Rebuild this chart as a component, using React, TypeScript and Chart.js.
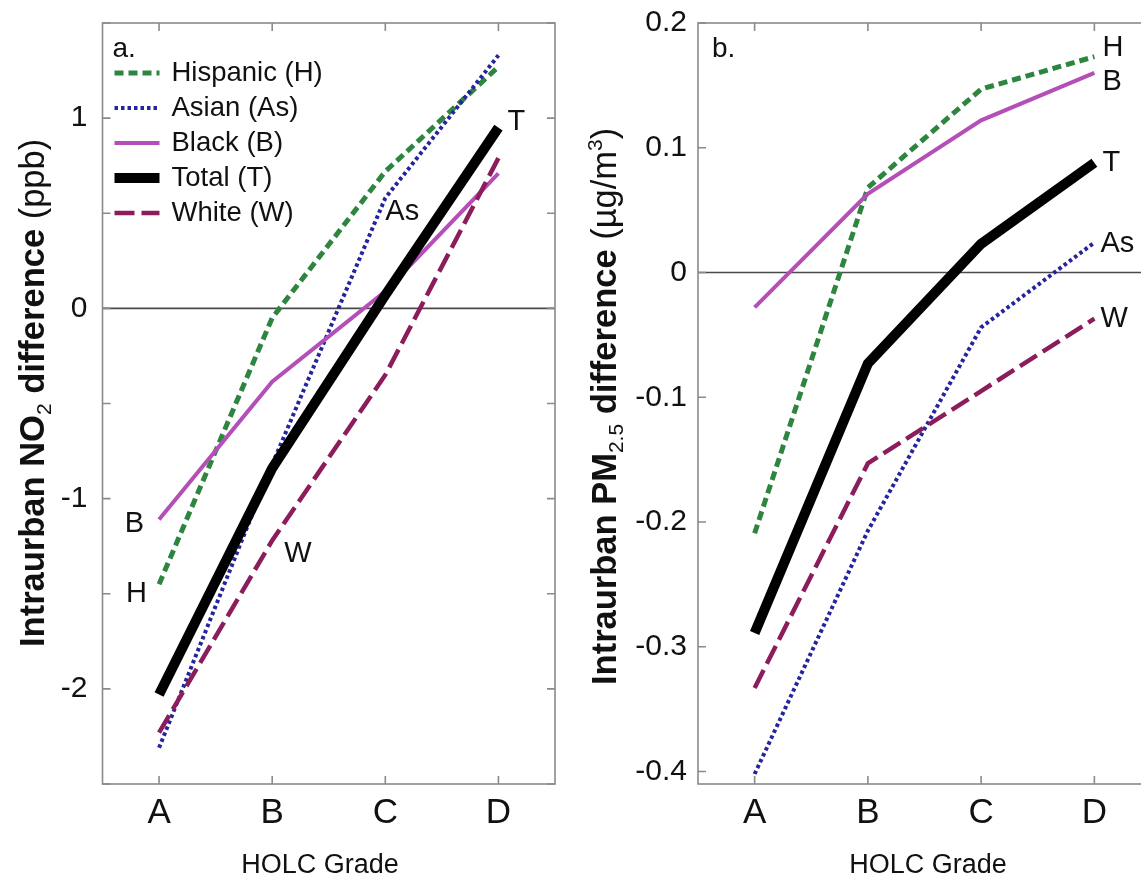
import React, { useEffect, useRef } from 'react';
import { Chart, registerables } from 'chart.js';

Chart.register(...registerables);

const GRADES = ['A', 'B', 'C', 'D'];
const SERIES_NAMES = ['Hispanic (H)', 'Asian (As)', 'Black (B)', 'Total (T)', 'White (W)'];

// Panel a: intraurban NO2 difference (ppb)
const NO2_HISPANIC = [-1.45, -0.05, 0.72, 1.27];
const NO2_ASIAN = [-2.31, -0.82, 0.58, 1.33];
const NO2_BLACK = [-1.11, -0.385, 0.09, 0.71];
const NO2_TOTAL = [-2.03, -0.84, 0.07, 0.95];
const NO2_WHITE = [-2.23, -1.22, -0.35, 0.79];
const NO2_TICKS = [-2.5, -2, -1.5, -1, -0.5, 0, 0.5, 1, 1.5];
const NO2_TICK_LABELS = ['', '-2', '', '-1', '', '0', '', '1', ''];

// Panel b: intraurban PM2.5 difference (µg/m3)
const PM_HISPANIC = [-0.209, 0.068, 0.147, 0.173];
const PM_ASIAN = [-0.402, -0.207, -0.044, 0.024];
const PM_BLACK = [-0.028, 0.063, 0.122, 0.16];
const PM_TOTAL = [-0.289, -0.073, 0.023, 0.088];
const PM_WHITE = [-0.333, -0.153, -0.095, -0.037];
const PM_TICKS = [-0.4, -0.3, -0.2, -0.1, 0, 0.1, 0.2];
const PM_TICK_LABELS = ['-0.4', '-0.3', '-0.2', '-0.1', '0', '0.1', '0.2'];

const FONT = '"Liberation Sans", Arial, Helvetica, sans-serif';

const STYLES = [
  { color: '#2e8540', width: 5, dash: [9, 5] },
  { color: '#24249c', width: 4, dash: [3.5, 3] },
  { color: '#b44fb8', width: 4, dash: [] as number[] },
  { color: '#000000', width: 10, dash: [] as number[] },
  { color: '#8c1d5c', width: 4.5, dash: [20, 7] },
];

type Run = { text: string; font: string; shift?: number };
type Note = { text: string; series: number; point: number; dx: number; dy: number; align: CanvasTextAlign };

const NO2_NOTES: Note[] = [
  { text: 'T', series: 3, point: 3, dx: 9, dy: -6, align: 'left' },
  { text: 'As', series: 1, point: 2, dx: 0, dy: 14, align: 'left' },
  { text: 'B', series: 2, point: 0, dx: -15, dy: 4, align: 'right' },
  { text: 'H', series: 0, point: 0, dx: -12, dy: 10, align: 'right' },
  { text: 'W', series: 4, point: 1, dx: 12, dy: 14, align: 'left' },
];

const PM_NOTES: Note[] = [
  { text: 'H', series: 0, point: 3, dx: 8, dy: -9, align: 'left' },
  { text: 'B', series: 2, point: 3, dx: 8, dy: 9, align: 'left' },
  { text: 'T', series: 3, point: 3, dx: 8, dy: 0, align: 'left' },
  { text: 'As', series: 1, point: 3, dx: 6, dy: 1, align: 'left' },
  { text: 'W', series: 4, point: 3, dx: 6, dy: 0, align: 'left' },
];

const NO2_TITLE: Run[] = [
  { text: 'Intraurban NO', font: `bold 34.5px ${FONT}` },
  { text: '2', font: `21px ${FONT}`, shift: 7 },
  { text: ' difference ', font: `bold 34.5px ${FONT}` },
  { text: '(ppb)', font: `34.5px ${FONT}` },
];

const PM_TITLE: Run[] = [
  { text: 'Intraurban PM', font: `bold 34.5px ${FONT}` },
  { text: '2.5', font: `21px ${FONT}`, shift: 7 },
  { text: ' difference ', font: `bold 34.5px ${FONT}` },
  { text: '(µg/m', font: `34.5px ${FONT}` },
  { text: '3', font: `21px ${FONT}`, shift: -14 },
  { text: ')', font: `34.5px ${FONT}` },
];

type Panel = {
  left: number;
  width: number;
  yWidth: number;
  padRight: number;
  series: number[][];
  ticks: number[];
  tickLabels: string[];
  yMin: number;
  yMax: number;
  tickPad: number;
  title: Run[];
  titleX: number;
  titleStartY: number;
  xTitleX: number;
  letter: string;
  letterDx: number;
  notes: Note[];
  legend: boolean;
};

const PANELS: Panel[] = [
  {
    left: 0, width: 570, yWidth: 102.5, padRight: 15,
    series: [NO2_HISPANIC, NO2_ASIAN, NO2_BLACK, NO2_TOTAL, NO2_WHITE],
    ticks: NO2_TICKS, tickLabels: NO2_TICK_LABELS, yMin: -2.5, yMax: 1.5, tickPad: 15,
    title: NO2_TITLE, titleX: 44, titleStartY: 647, xTitleX: 320,
    letter: 'a.', letterDx: 10, notes: NO2_NOTES, legend: true,
  },
  {
    left: 580, width: 580, yWidth: 118, padRight: 9,
    series: [PM_HISPANIC, PM_ASIAN, PM_BLACK, PM_TOTAL, PM_WHITE],
    ticks: PM_TICKS, tickLabels: PM_TICK_LABELS, yMin: -0.41, yMax: 0.2, tickPad: 11,
    title: PM_TITLE, titleX: 36, titleStartY: 685, xTitleX: 348,
    letter: 'b.', letterDx: 14, notes: PM_NOTES, legend: false,
  },
];

function drawRotatedRuns(ctx: CanvasRenderingContext2D, runs: Run[], baseX: number, startY: number) {
  ctx.save();
  ctx.translate(baseX, startY);
  ctx.rotate(-Math.PI / 2);
  ctx.textAlign = 'left';
  ctx.textBaseline = 'alphabetic';
  ctx.fillStyle = '#111';
  let cx = 0;
  for (const r of runs) {
    ctx.font = r.font;
    ctx.fillText(r.text, cx, r.shift || 0);
    cx += ctx.measureText(r.text).width;
  }
  ctx.restore();
}

function makeDecor(panel: Panel) {
  return {
    id: 'decor',
    beforeDatasetsDraw(chart: any) {
      const { ctx, chartArea: a, scales } = chart;
      const y0 = scales.y.getPixelForValue(0);
      ctx.save();
      ctx.strokeStyle = '#4a4a4a';
      ctx.lineWidth = 1.6;
      ctx.beginPath();
      ctx.moveTo(a.left, y0);
      ctx.lineTo(a.right, y0);
      ctx.stroke();
      ctx.restore();
    },
    afterDraw(chart: any) {
      const { ctx, chartArea: a, scales } = chart;
      const { x, y } = scales;
      ctx.save();
      // frame
      ctx.strokeStyle = '#8a8a8a';
      ctx.lineWidth = 1.6;
      ctx.strokeRect(a.left, a.top, a.right - a.left, a.bottom - a.top);
      // inward tick marks
      const TL = 8;
      ctx.beginPath();
      for (const t of y.ticks) {
        const py = y.getPixelForValue(t.value);
        ctx.moveTo(a.left, py);
        ctx.lineTo(a.left + TL, py);
        ctx.moveTo(a.right, py);
        ctx.lineTo(a.right - TL, py);
      }
      for (let i = 0; i < GRADES.length; i++) {
        const px = x.getPixelForValue(i);
        ctx.moveTo(px, a.bottom);
        ctx.lineTo(px, a.bottom - TL);
        ctx.moveTo(px, a.top);
        ctx.lineTo(px, a.top + TL);
      }
      ctx.stroke();

      // panel letter
      ctx.fillStyle = '#111';
      ctx.font = `28px ${FONT}`;
      ctx.textAlign = 'left';
      ctx.textBaseline = 'middle';
      ctx.fillText(panel.letter, a.left + panel.letterDx, a.top + 26);

      // legend
      if (panel.legend) {
        SERIES_NAMES.forEach((name, i) => {
          const st = STYLES[i];
          const cy = a.top + 50 + i * 35;
          ctx.save();
          ctx.strokeStyle = st.color;
          ctx.lineWidth = st.width;
          ctx.setLineDash(st.dash);
          ctx.beginPath();
          ctx.moveTo(a.left + 12, cy);
          ctx.lineTo(a.left + 57, cy);
          ctx.stroke();
          ctx.restore();
          ctx.fillStyle = '#111';
          ctx.font = `27.5px ${FONT}`;
          ctx.textAlign = 'left';
          ctx.textBaseline = 'middle';
          ctx.fillText(name, a.left + 69, cy);
        });
      }

      // line labels
      ctx.font = `29px ${FONT}`;
      ctx.textBaseline = 'middle';
      ctx.fillStyle = '#111';
      for (const n of panel.notes) {
        const el = chart.getDatasetMeta(n.series).data[n.point];
        ctx.textAlign = n.align;
        ctx.fillText(n.text, el.x + n.dx, el.y + n.dy);
      }

      // axis titles
      drawRotatedRuns(ctx, panel.title, panel.titleX, panel.titleStartY);
      ctx.font = `27px ${FONT}`;
      ctx.textAlign = 'center';
      ctx.textBaseline = 'alphabetic';
      ctx.fillStyle = '#111';
      ctx.fillText('HOLC Grade', panel.xTitleX, 873);
      ctx.restore();
    },
  };
}

function PanelChart({ panel }: { panel: Panel }) {
  const ref = useRef<HTMLCanvasElement | null>(null);
  useEffect(() => {
    if (!ref.current) return;
    const chart = new Chart(ref.current, {
      type: 'line',
      data: {
        labels: GRADES,
        datasets: panel.series.map((vals, i) => ({
          label: SERIES_NAMES[i],
          data: vals,
          borderColor: STYLES[i].color,
          backgroundColor: STYLES[i].color,
          borderWidth: STYLES[i].width,
          borderDash: STYLES[i].dash,
          borderCapStyle: 'butt',
          borderJoinStyle: 'miter',
          pointRadius: 0,
          pointHoverRadius: 0,
          tension: 0,
          fill: false,
          order: -i,
        })),
      },
      options: {
        responsive: false,
        animation: false,
        events: [],
        layout: { padding: { left: 0, right: panel.padRight, top: 23, bottom: 0 } },
        plugins: { legend: { display: false }, tooltip: { enabled: false }, title: { display: false } },
        scales: {
          x: {
            type: 'category',
            offset: true,
            grid: { display: false, drawTicks: false },
            border: { display: false },
            ticks: { font: { family: FONT, size: 35 }, color: '#111', padding: 8, maxRotation: 0 },
            afterFit: (s: any) => { s.height = 93; s.paddingLeft = 0; s.paddingRight = 0; },
          },
          y: {
            type: 'linear',
            min: panel.yMin,
            max: panel.yMax,
            grid: { display: false, drawTicks: false },
            border: { display: false },
            afterBuildTicks: (s: any) => { s.ticks = panel.ticks.map((v) => ({ value: v })); },
            ticks: {
              font: { family: FONT, size: 30 },
              color: '#111',
              padding: panel.tickPad,
              callback: (_v: any, idx: number) => panel.tickLabels[idx],
            },
            afterFit: (s: any) => { s.width = panel.yWidth; s.paddingTop = 0; s.paddingBottom = 0; },
          },
        },
      },
      plugins: [makeDecor(panel)],
    } as any);
    return () => chart.destroy();
  }, [panel]);
  return (
    <canvas
      ref={ref}
      width={panel.width}
      height={877}
      style={{ position: 'absolute', left: panel.left, top: 0, width: panel.width, height: 877 }}
    />
  );
}

export default function App() {
  return (
    <div style={{ position: 'absolute', left: 0, top: 0, width: 1141, height: 877, overflow: 'hidden', background: '#fff' }}>
      {PANELS.map((p, i) => (
        <PanelChart key={i} panel={p} />
      ))}
    </div>
  );
}
